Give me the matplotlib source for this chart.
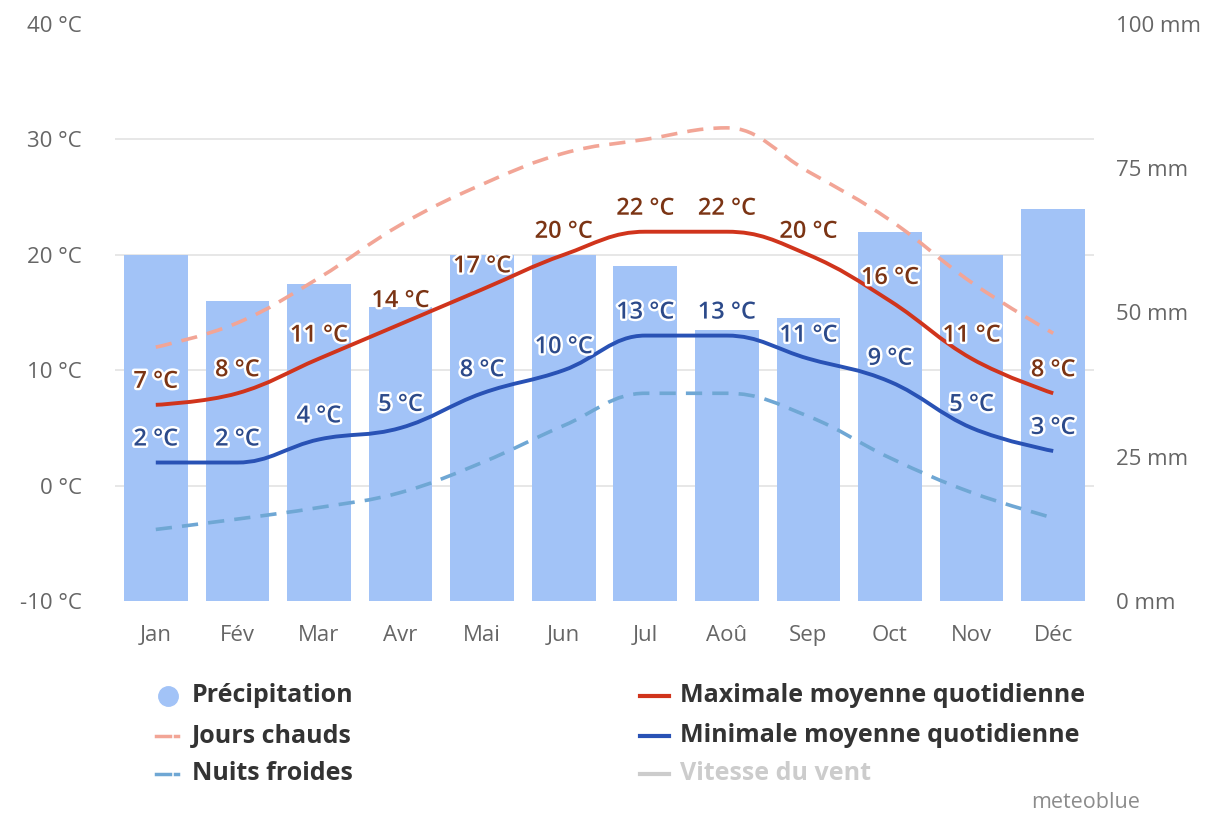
import matplotlib
matplotlib.use("Agg")
import matplotlib.pyplot as plt
from matplotlib.path import Path
from matplotlib.patches import PathPatch
from matplotlib.lines import Line2D
import matplotlib.patheffects as pe

plt.rcParams["font.family"] = ["Open Sans", "DejaVu Sans"]

# --- data ---
months = ["Jan", "Fév", "Mar", "Avr", "Mai", "Jun", "Jul", "Aoû", "Sep", "Oct", "Nov", "Déc"]
precip_mm = [60, 52, 55, 51, 60, 60, 58, 47, 49, 64, 60, 68]
t_max = [7, 8, 11, 14, 17, 20, 22, 22, 20, 16, 11, 8]
t_min = [2, 2, 4, 5, 8, 10, 13, 13, 11, 9, 5, 3]
hot_days = [12.0, 14.1, 18.0, 22.6, 26.1, 28.8, 30.0, 31.0, 27.2, 23.0, 17.6, 13.2]
cold_nights = [-3.8, -2.9, -1.9, -0.6, 2.0, 5.2, 8.0, 8.0, 6.0, 2.4, -0.6, -2.8]

temp_ticks = [-10, 0, 10, 20, 30, 40]
precip_ticks = [0, 25, 50, 75, 100]

C_BAR = "#a2c3f7"
C_MAX = "#d0341c"
C_MIN = "#2952b5"
C_HOT = "#f2a596"
C_COLD = "#6fa7d4"
C_MAX_LBL = "#7b3414"
C_MIN_LBL = "#2c4a8a"
C_TICK = "#666666"

W, H = 1218, 818


def spline_path(xs, ys, smoothing=1.5):
    """Bezier path like the Highcharts 'spline' series type."""
    n = len(xs)
    left = [None] * n
    right = [None] * n
    for i in range(n):
        x, y = xs[i], ys[i]
        if 0 < i < n - 1:
            d = smoothing + 1
            lx = (smoothing * x + xs[i - 1]) / d
            ly = (smoothing * y + ys[i - 1]) / d
            rx = (smoothing * x + xs[i + 1]) / d
            ry = (smoothing * y + ys[i + 1]) / d
            corr = ((ry - ly) * (rx - x)) / (rx - lx) + y - ry
            ly += corr
            ry += corr
            if ly > ys[i - 1] and ly > y:
                ly = max(ys[i - 1], y)
                ry = 2 * y - ly
            elif ly < ys[i - 1] and ly < y:
                ly = min(ys[i - 1], y)
                ry = 2 * y - ly
            if ry > ys[i + 1] and ry > y:
                ry = max(ys[i + 1], y)
                ly = 2 * y - ry
            elif ry < ys[i + 1] and ry < y:
                ry = min(ys[i + 1], y)
                ly = 2 * y - ry
            left[i] = (lx, ly)
            right[i] = (rx, ry)
        else:
            left[i] = right[i] = (x, y)
    verts = [(xs[0], ys[0])]
    codes = [Path.MOVETO]
    for i in range(1, n):
        verts += [right[i - 1], left[i], (xs[i], ys[i])]
        codes += [Path.CURVE4] * 3
    return Path(verts, codes)


fig = plt.figure(figsize=(W / 100, H / 100), dpi=100)
fig.patch.set_facecolor("white")

# precipitation axis (bars, right side) sits below the temperature axis
ax_p = fig.add_axes([115 / W, 1 - 601 / H, 979 / W, 577 / H])
ax_t = ax_p.twinx()
ax_t.set_zorder(ax_p.get_zorder() + 1)
ax_t.patch.set_visible(False)

x = list(range(len(months)))

ax_p.bar(x, precip_mm, width=0.78, color=C_BAR, zorder=2)
ax_p.set_xlim(-0.5, 11.5)
ax_p.set_ylim(0, 100)
ax_p.yaxis.tick_right()
ax_p.set_yticks(precip_ticks)
ax_p.set_yticklabels([f"{v} mm" for v in precip_ticks])
# gridlines follow the temperature ticks, drawn under the bars
ax_p.set_yticks([(t - temp_ticks[0]) * 100 / (temp_ticks[-1] - temp_ticks[0]) for t in temp_ticks], minor=True)
ax_p.grid(True, which="minor", axis="y", color="#e3e3e3", lw=1.2, zorder=0)
ax_p.tick_params(axis="y", which="both", length=0, pad=16, labelsize=16, labelcolor=C_TICK)
ax_p.set_xticks(x)
ax_p.set_xticklabels(months)
ax_p.tick_params(axis="x", length=0, pad=17, labelsize=16, labelcolor=C_TICK)
for s in ax_p.spines.values():
    s.set_visible(False)

ax_t.set_ylim(temp_ticks[0], temp_ticks[-1])
ax_t.yaxis.tick_left()
ax_t.set_yticks(temp_ticks)
ax_t.set_yticklabels([f"{v} °C" for v in temp_ticks])
ax_t.tick_params(axis="y", length=0, pad=24, labelsize=16, labelcolor=C_TICK)
for s in ax_t.spines.values():
    s.set_visible(False)

series = [
    (hot_days, C_HOT, (0, (4.5, 2.8)), 2.6),
    (cold_nights, C_COLD, (0, (4.5, 2.8)), 2.6),
    (t_max, C_MAX, "solid", 2.8),
    (t_min, C_MIN, "solid", 2.8),
]
for vals, col, ls, lw in series:
    ax_t.add_patch(PathPatch(spline_path(x, vals), facecolor="none", edgecolor=col,
                             lw=lw, linestyle=ls, capstyle="butt", zorder=3))

halo = [pe.withStroke(linewidth=3.5, foreground="white")]
for vals, col in [(t_max, C_MAX_LBL), (t_min, C_MIN_LBL)]:
    for xi, v in zip(x, vals):
        ax_t.annotate(f"{v} °C", (xi, v), xytext=(0, 11), textcoords="offset pixels",
                      ha="center", va="bottom", fontsize=17, fontweight=600, color=col,
                      path_effects=halo, zorder=5)

# --- legend, laid out like the original ---
def fx(px):
    return px / W


def fy(py):
    return 1 - py / H


legend_rows = [696, 736, 774]
left_items = [
    ("Précipitation", "circle", C_BAR, None),
    ("Jours chauds", "dash", C_HOT, None),
    ("Nuits froides", "dash", C_COLD, None),
]
right_items = [
    ("Maximale moyenne quotidienne", "line", C_MAX, None),
    ("Minimale moyenne quotidienne", "line", C_MIN, None),
    ("Vitesse du vent", "line", "#cccccc", "#cccccc"),
]
for (label, kind, col, tcol), row in zip(left_items, legend_rows):
    if kind == "circle":
        fig.add_artist(Line2D([fx(168)], [fy(row)], marker="o", markersize=14,
                              color=col, transform=fig.transFigure))
    else:
        fig.add_artist(Line2D([fx(156), fx(170)], [fy(row)] * 2, color=col, lw=2.5,
                              transform=fig.transFigure))
        fig.add_artist(Line2D([fx(175), fx(178)], [fy(row)] * 2, color=col, lw=2.5,
                              transform=fig.transFigure))
    fig.text(fx(192), fy(row), label, fontsize=18, fontweight="bold",
             color=tcol or "#333333", va="center", ha="left")
for (label, kind, col, tcol), row in zip(right_items, legend_rows):
    fig.add_artist(Line2D([fx(640), fx(669)], [fy(row)] * 2, color=col, lw=3,
                          transform=fig.transFigure))
    fig.text(fx(680), fy(row), label, fontsize=18, fontweight="bold",
             color=tcol or "#333333", va="center", ha="left")

fig.text(fx(1140), fy(803), "meteoblue", fontsize=15.5, color="#8c8c8c", ha="right", va="center")

fig.savefig("out.png", dpi=100)
